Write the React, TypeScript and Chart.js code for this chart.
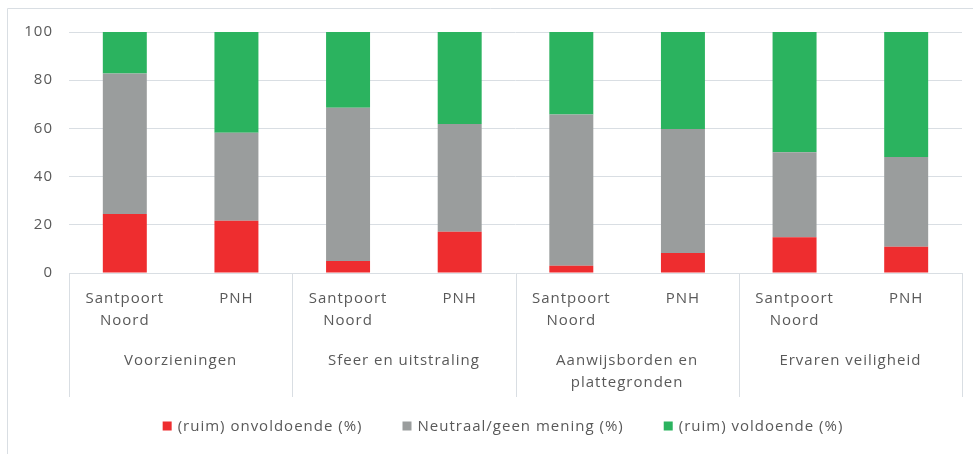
import React, { useEffect, useRef } from "react";
import { Chart, registerables } from "chart.js";

Chart.register(...registerables);

const groupLabels: string[][] = [
  ["Voorzieningen"],
  ["Sfeer en uitstraling"],
  ["Aanwijsborden en", "plattegronden"],
  ["Ervaren veiligheid"],
];
const subLabels: string[][] = [
  ["Santpoort", "Noord"], ["PNH"],
  ["Santpoort", "Noord"], ["PNH"],
  ["Santpoort", "Noord"], ["PNH"],
  ["Santpoort", "Noord"], ["PNH"],
];
const seriesNames = ["(ruim) onvoldoende (%)", "Neutraal/geen mening (%)", "(ruim) voldoende (%)"];
const seriesColors = ["#ee2d2f", "#9a9d9d", "#2bb35f"];
const onvoldoende = [24.5, 21.7, 5.0, 17.1, 3.0, 8.3, 14.8, 10.9];
const neutraal = [58.3, 36.5, 63.6, 44.7, 62.8, 51.5, 35.3, 37.2];
const voldoende = [17.2, 41.8, 31.4, 38.2, 34.2, 40.2, 49.9, 51.9];
const yTicks = [0, 20, 40, 60, 80, 100];

const FONT = "'Open Sans', 'DejaVu Sans', sans-serif";
const TEXT = "#595959";
const LINE = "#d9dee3";
const SPACING = "1px";

const decorPlugin = {
  id: "decor",
  beforeDraw(chart: any) {
    const ctx = chart.ctx;
    (ctx as any).letterSpacing = SPACING;
    ctx.save();
    ctx.strokeStyle = LINE;
    ctx.lineWidth = 1;
    ctx.beginPath();
    ctx.moveTo(7.5, chart.height);
    ctx.lineTo(7.5, 8.5);
    ctx.lineTo(chart.width, 8.5);
    ctx.stroke();
    ctx.restore();
  },
  afterDraw(chart: any) {
    const ctx = chart.ctx;
    const xs = chart.scales.x;
    const area = chart.chartArea;
    const half = (xs.getPixelForValue(1) - xs.getPixelForValue(0)) / 2;
    const perGroup = subLabels.length / groupLabels.length;
    ctx.save();
    (ctx as any).letterSpacing = SPACING;
    // separators
    ctx.strokeStyle = LINE;
    ctx.lineWidth = 1;
    for (let g = 0; g <= groupLabels.length; g++) {
      const idx = g * perGroup;
      const x = Math.round(
        idx < subLabels.length ? xs.getPixelForValue(idx) - half : xs.getPixelForValue(subLabels.length - 1) + half
      ) + 0.5;
      ctx.beginPath();
      ctx.moveTo(x, area.bottom);
      ctx.lineTo(x, area.bottom + 124);
      ctx.stroke();
    }
    // group labels
    ctx.fillStyle = TEXT;
    ctx.font = `15px ${FONT}`;
    ctx.textAlign = "center";
    ctx.textBaseline = "middle";
    groupLabels.forEach((lines, g) => {
      const i0 = g * perGroup;
      const i1 = i0 + perGroup - 1;
      const cx = (xs.getPixelForValue(i0) + xs.getPixelForValue(i1)) / 2;
      lines.forEach((t, k) => ctx.fillText(t, cx, area.bottom + 88 + k * 22));
    });
    // legend
    const box = 9;
    const gapBox = 6;
    const gapItem = 40;
    const widths = seriesNames.map((n) => ctx.measureText(n).width);
    const total = widths.reduce((a, w) => a + box + gapBox + w, 0) + gapItem * (seriesNames.length - 1);
    let x = 503 - total / 2;
    const ly = 426;
    ctx.textAlign = "left";
    seriesNames.forEach((n, i) => {
      ctx.fillStyle = seriesColors[i];
      ctx.fillRect(x, ly - box / 2, box, box);
      x += box + gapBox;
      ctx.fillStyle = TEXT;
      ctx.fillText(n, x, ly + 1);
      x += widths[i] + gapItem;
    });
    ctx.restore();
  },
};

export default function App() {
  const ref = useRef<HTMLCanvasElement | null>(null);
  useEffect(() => {
    if (!ref.current) return;
    const chart = new Chart(ref.current, {
      type: "bar",
      data: {
        labels: subLabels,
        datasets: [onvoldoende, neutraal, voldoende].map((d, i) => ({
          label: seriesNames[i],
          data: d,
          backgroundColor: seriesColors[i],
          borderWidth: 0,
          categoryPercentage: 1,
          barPercentage: 0.394,
        })),
      },
      options: {
        animation: false,
        responsive: false,
        devicePixelRatio: 1,
        layout: { padding: { top: 32, right: 11, bottom: 0, left: 0 } },
        plugins: { legend: { display: false }, tooltip: { enabled: false } },
        scales: {
          x: {
            stacked: true,
            grid: { display: false, drawTicks: false },
            border: { display: false },
            ticks: {
              color: TEXT,
              font: { family: FONT, size: 15, lineHeight: 1.47 },
              padding: 15,
              maxRotation: 0,
              autoSkip: false,
            },
            afterFit: (s: any) => { s.height = 181; },
          },
          y: {
            stacked: true,
            min: 0,
            max: 100,
            grid: { color: LINE, lineWidth: 1, drawTicks: false },
            border: { display: false },
            ticks: {
              color: TEXT,
              font: { family: FONT, size: 15 },
              padding: 16,
            },
            afterBuildTicks: (s: any) => { s.ticks = yTicks.map((v) => ({ value: v })); },
            afterFit: (s: any) => { s.width = 69; },
          },
        },
      },
      plugins: [decorPlugin],
    });
    return () => chart.destroy();
  }, []);
  return (
    <div style={{ position: "fixed", left: 0, top: 0, width: 973, height: 454, background: "#fff" }}>
      <canvas ref={ref} width={973} height={454} />
    </div>
  );
}
